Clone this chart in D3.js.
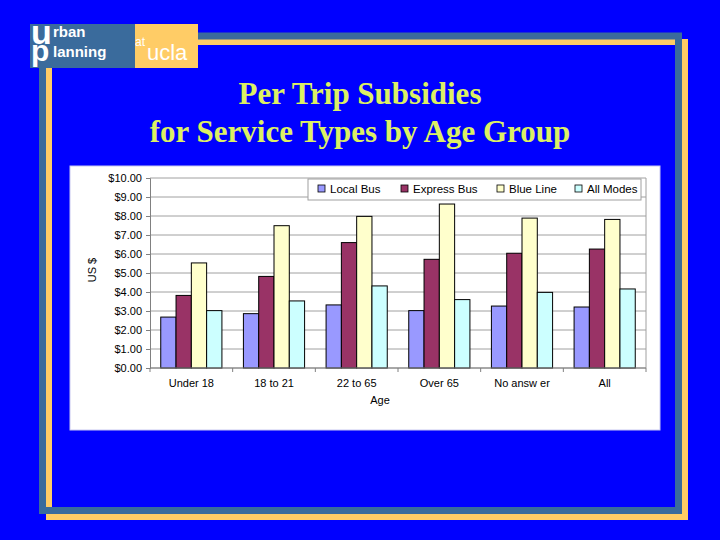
<!DOCTYPE html>
<head>
<meta charset="utf-8">
<style>
body { margin: 0; background: #0000ff; }
text { font-family: "Liberation Sans", Arial, sans-serif; }
</style>
</head>
<body>
<script src="https://d3js.org/d3.v7.min.js"></script>
<script>
var ages = ["Under 18", "18 to 21", "22 to 65", "Over 65", "No answ er", "All"];
var series = ["Local Bus", "Express Bus", "Blue Line", "All Modes"];
var colors = ["#9999ff", "#993366", "#ffffcc", "#ccffff"];
var localBus = [2.68, 2.86, 3.32, 3.02, 3.26, 3.21];
var expressBus = [3.82, 4.82, 6.60, 5.72, 6.04, 6.26];
var blueLine = [5.53, 7.49, 7.98, 8.63, 7.89, 7.82];
var allModes = [3.02, 3.53, 4.32, 3.60, 3.98, 4.16];
var yTicks = [0, 1, 2, 3, 4, 5, 6, 7, 8, 9, 10];
var values = [localBus, expressBus, blueLine, allModes];

var width = 720, height = 540;
var svg = d3.select("body").append("svg")
    .attr("width", width)
    .attr("height", height);

svg.append("rect").attr("width", width).attr("height", height).attr("fill", "#0000ff");

// slide frame: orange behind, steel blue on top
svg.append("rect")
    .attr("x", 49).attr("y", 42).attr("width", 636).attr("height", 475)
    .attr("fill", "none").attr("stroke", "#ffcc66").attr("stroke-width", 6);
svg.append("rect")
    .attr("x", 42.5).attr("y", 36).attr("width", 636).attr("height", 474.5)
    .attr("fill", "none").attr("stroke", "#3a6b9c").attr("stroke-width", 7);

// logo
svg.append("rect").attr("x", 30).attr("y", 24).attr("width", 105).attr("height", 44).attr("fill", "#3a6b9c");
svg.append("rect").attr("x", 135).attr("y", 24).attr("width", 63).attr("height", 44).attr("fill", "#ffcc66");
svg.append("text").attr("x", 31).attr("y", 44).attr("fill", "white")
    .attr("font-size", 34).attr("font-weight", "bold").text("u");
svg.append("text").attr("x", 31).attr("y", 61).attr("fill", "white")
    .attr("font-size", 30).attr("font-weight", "bold").text("p");
svg.append("text").attr("x", 53).attr("y", 37).attr("fill", "white")
    .attr("font-size", 15).attr("font-weight", "bold").text("rban");
svg.append("text").attr("x", 53).attr("y", 57).attr("fill", "white")
    .attr("font-size", 15).attr("font-weight", "bold").text("lanning");
svg.append("text").attr("x", 135).attr("y", 46).attr("fill", "white")
    .attr("font-size", 12).text("at");
svg.append("text").attr("x", 147).attr("y", 60).attr("fill", "white")
    .attr("font-size", 22).text("ucla");

// title
var title = svg.append("text")
    .attr("text-anchor", "middle")
    .attr("fill", "#dcf064")
    .attr("font-size", 31)
    .attr("font-weight", "bold")
    .style("font-family", "'Liberation Serif', 'Times New Roman', serif");
title.append("tspan").attr("x", 360).attr("y", 104).text("Per Trip Subsidies");
title.append("tspan").attr("x", 360).attr("y", 142).text("for Service Types by Age Group");

// chart panel
svg.append("rect").attr("x", 70).attr("y", 166).attr("width", 590).attr("height", 264)
    .attr("fill", "white").attr("stroke", "#c8c8f0").attr("stroke-width", 1);

var plotL = 150, plotR = 646, plotT = 178, plotB = 368;
var x0 = d3.scaleBand().domain(ages).range([plotL, plotR]).paddingInner(0.26).paddingOuter(0.13);
var x1 = d3.scaleBand().domain(series).range([0, x0.bandwidth()]);
var y = d3.scaleLinear().domain([0, 10]).range([plotB, plotT]);

var g = svg.append("g");

// gridlines
g.selectAll(".grid").data(yTicks).enter().append("line")
    .attr("x1", plotL).attr("x2", plotR)
    .attr("y1", function (d) { return y(d); })
    .attr("y2", function (d) { return y(d); })
    .attr("stroke", "#a0a0a0").attr("stroke-width", 1);
g.append("line").attr("x1", plotR).attr("x2", plotR).attr("y1", plotT).attr("y2", plotB)
    .attr("stroke", "#a0a0a0");

// bars
series.forEach(function (s, si) {
    g.selectAll(".bar" + si).data(values[si]).enter().append("rect")
        .attr("x", function (d, i) { return x0(ages[i]) + x1(s); })
        .attr("y", function (d) { return y(d); })
        .attr("width", x1.bandwidth())
        .attr("height", function (d) { return plotB - y(d); })
        .attr("fill", colors[si])
        .attr("stroke", "black").attr("stroke-width", 1);
});

// y axis
var yAxis = g.append("g").attr("transform", "translate(" + plotL + ",0)")
    .call(d3.axisLeft(y).tickValues(yTicks).tickSize(4).tickPadding(4)
        .tickFormat(function (d) { return "$" + d.toFixed(2); }));
yAxis.select(".domain").attr("stroke", "#808080");
yAxis.selectAll(".tick line").attr("stroke", "#808080");
yAxis.selectAll("text").attr("font-size", 11).attr("fill", "black")
    .style("font-family", "'Liberation Sans', Arial, sans-serif");

// x axis
var xAxis = g.append("g").attr("transform", "translate(0," + plotB + ")")
    .call(d3.axisBottom(x0).tickSize(0).tickPadding(11));
xAxis.select(".domain").attr("stroke", "#808080").attr("d", "M" + plotL + ",0H" + plotR);
xAxis.selectAll("text").attr("font-size", 11).attr("fill", "black")
    .style("font-family", "'Liberation Sans', Arial, sans-serif");
var step = x0.step();
g.selectAll(".xt").data(d3.range(ages.length + 1)).enter().append("line")
    .attr("x1", function (d) { return plotL + d * step; })
    .attr("x2", function (d) { return plotL + d * step; })
    .attr("y1", plotB).attr("y2", plotB + 4)
    .attr("stroke", "#808080");

svg.append("text").attr("x", 380).attr("y", 404).attr("text-anchor", "middle")
    .attr("font-size", 11).text("Age");
svg.append("text").attr("transform", "translate(96,270) rotate(-90)")
    .attr("text-anchor", "middle").attr("font-size", 11).text("US $");

// legend
svg.append("rect").attr("x", 308).attr("y", 179).attr("width", 333).attr("height", 21)
    .attr("fill", "white").attr("stroke", "#a0a0a0");
var lx = [318, 401, 497, 575];
series.forEach(function (s, i) {
    svg.append("rect").attr("x", lx[i]).attr("y", 185).attr("width", 7).attr("height", 7)
        .attr("fill", colors[i]).attr("stroke", "black").attr("stroke-width", 0.8);
    svg.append("text").attr("x", lx[i] + 12).attr("y", 193).attr("font-size", 11.5).text(s);
});
</script>
</body>
